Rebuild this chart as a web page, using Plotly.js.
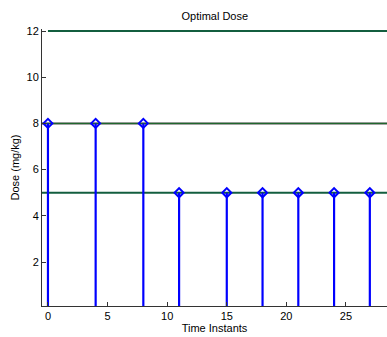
<!DOCTYPE html>
<html>
<head>
<meta charset="utf-8">
<script src="https://cdn.plot.ly/plotly-3.0.1.min.js"></script>
<style>
  html, body { margin: 0; padding: 0; background: #fff; }
  #chart { width: 387px; height: 337px; }
</style>
</head>
<body>
<div id="chart"></div>
<script>
// Dosing schedule: administration instants and dose per instant
const timeInstants = [0, 4, 8, 11, 15, 18, 21, 24, 27];
const doses = [8, 8, 8, 5, 5, 5, 5, 5, 5];

// Reference dose levels (mg/kg)
const upperLimit = 12;
const loadingLevel = 8;
const maintenanceLevel = 5;

const xTicks = [0, 5, 10, 15, 20, 25];
const yTicks = [2, 4, 6, 8, 10, 12];

const xRange = [-0.5, 28.44];
const yRange = [0.095, 12.087];

const green = '#135e3f';
const font = { family: 'Liberation Sans, Arial, sans-serif', size: 11, color: '#000' };

function hLine(y, x0, color, width) {
  return {
    type: 'scatter', mode: 'lines',
    x: [x0, xRange[1]], y: [y, y],
    line: { color: color, width: width },
    hoverinfo: 'skip', showlegend: false
  };
}

const traces = [
  hLine(upperLimit, 0, green, 2),
  hLine(loadingLevel, xRange[0], '#4a4a4a', 2),
  hLine(loadingLevel, xRange[0], '#1a6b2a', 1),
  hLine(maintenanceLevel, xRange[0], green, 2),
  {
    // stem plot: a vertical error bar down to zero under each diamond marker
    type: 'scatter', mode: 'markers',
    x: timeInstants, y: doses,
    marker: { symbol: 'diamond-open', size: 7, color: '#0000ff', line: { width: 2, color: '#0000ff' } },
    error_y: {
      type: 'data', symmetric: false,
      array: doses.map(() => 0),
      arrayminus: doses,
      width: 0, thickness: 2.2, color: '#0000ff'
    },
    showlegend: false
  }
];

const layout = {
  width: 387, height: 337,
  margin: { l: 42, r: 0, t: 29, b: 31 },
  paper_bgcolor: '#fff', plot_bgcolor: '#fff',
  font: font,
  showlegend: false,
  title: { text: 'Optimal Dose', font: { family: font.family, size: 11, color: '#000' }, x: 0.555, xanchor: 'center', y: 0.952, yanchor: 'middle' },
  xaxis: {
    range: xRange, tickvals: xTicks, ticktext: xTicks.map(String),
    ticks: 'inside', ticklen: 4, tickcolor: '#333', tickwidth: 1,
    showline: true, linecolor: '#333', linewidth: 1,
    showgrid: false, zeroline: false,
    tickfont: { family: font.family, size: 11, color: '#000' },
    title: { text: 'Time Instants', font: { family: font.family, size: 11, color: '#000' }, standoff: 2 }
  },
  yaxis: {
    range: yRange, tickvals: yTicks, ticktext: yTicks.map(String),
    ticks: 'inside', ticklen: 4, tickcolor: '#333', tickwidth: 1,
    showline: true, linecolor: '#333', linewidth: 1,
    showgrid: false, zeroline: false,
    tickfont: { family: font.family, size: 11, color: '#000' },
    title: { text: 'Dose (mg/kg)', font: { family: font.family, size: 11, color: '#000' }, standoff: 4 }
  }
};

Plotly.newPlot('chart', traces, layout, { displayModeBar: false, staticPlot: true });
</script>
</body>
</html>
